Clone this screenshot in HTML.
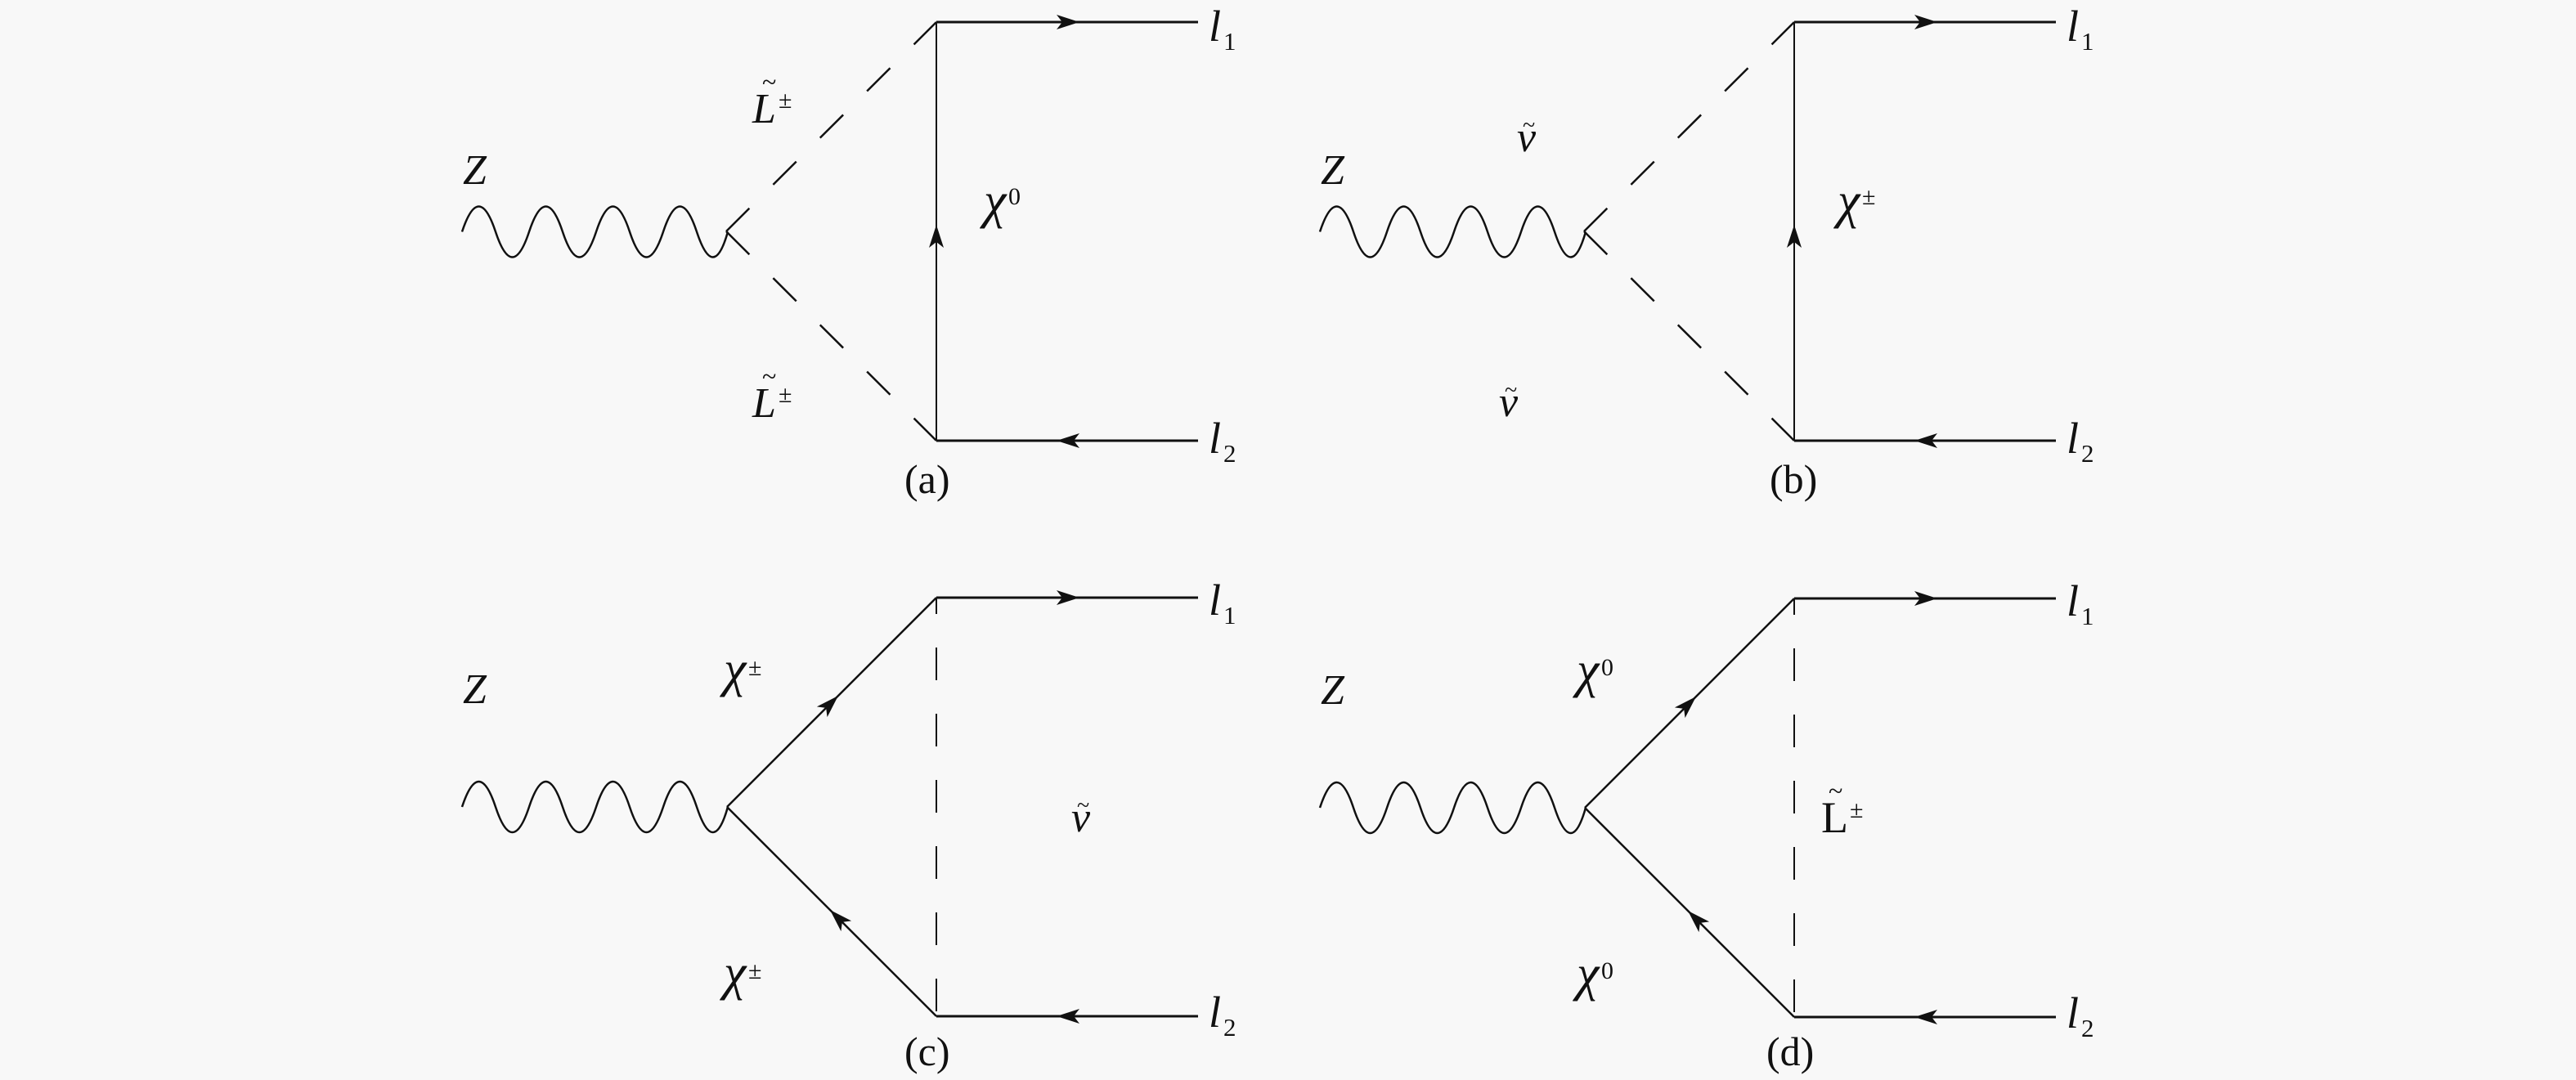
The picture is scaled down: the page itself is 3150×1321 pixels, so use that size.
<!DOCTYPE html>
<html><head><meta charset="utf-8"><style>
html,body{margin:0;padding:0;background:#f8f8f8;}
svg{display:block;}
text{font-family:"Liberation Serif",serif;fill:#111;}
.it{font-style:italic;}
</style></head><body>
<svg width="3150" height="1321" viewBox="0 0 3150 1321" xmlns="http://www.w3.org/2000/svg">
<defs>
<polygon id="ah" points="0,0 -28,-9 -21,0 -28,9" fill="#111"/>
<g id="wave">
<path d="M565 0 Q585.5 -62 606 0 T647 0 T688 0 T729 0 T770 0 T811 0 T852 0 T890 0" fill="none" stroke="#111" stroke-width="2.5"/>
</g>
<g id="top">
<use href="#wave" transform="translate(0,283.5)"/>
<line x1="888" y1="283" x2="1145" y2="27" stroke="#111" stroke-width="2.5" stroke-dasharray="40 41"/>
<line x1="888" y1="283" x2="1145" y2="539" stroke="#111" stroke-width="2.5" stroke-dasharray="40 41"/>
<line x1="1145" y1="27" x2="1145" y2="539" stroke="#111" stroke-width="2"/>
<line x1="1145" y1="27" x2="1465" y2="27" stroke="#111" stroke-width="3"/>
<line x1="1145" y1="539" x2="1465" y2="539" stroke="#111" stroke-width="3"/>
<use href="#ah" transform="translate(1320,27)"/>
<use href="#ah" transform="translate(1292,539) rotate(180)"/>
<use href="#ah" transform="translate(1145,275) rotate(-90)"/>
<text class="it" x="1478" y="50" font-size="54">l</text><text x="1496" y="61" font-size="31">1</text>
<text class="it" x="1478" y="554" font-size="54">l</text><text x="1496" y="565" font-size="31">2</text>
<text class="it" x="566" y="225" font-size="52">Z</text>
</g>
<g id="bot">
<use href="#wave" transform="translate(0,987)"/>
<line x1="889" y1="987" x2="1145" y2="731" stroke="#111" stroke-width="2.5"/>
<line x1="889" y1="987" x2="1145" y2="1243" stroke="#111" stroke-width="2.5"/>
<line x1="1145" y1="731" x2="1145" y2="1243" stroke="#111" stroke-width="2" stroke-dasharray="40 41" stroke-dashoffset="20"/>
<line x1="1145" y1="731" x2="1465" y2="731" stroke="#111" stroke-width="3"/>
<line x1="1145" y1="1243" x2="1465" y2="1243" stroke="#111" stroke-width="3"/>
<use href="#ah" transform="translate(1320,731)"/>
<use href="#ah" transform="translate(1292,1243) rotate(180)"/>
<use href="#ah" transform="translate(1025,851) rotate(-45)"/>
<use href="#ah" transform="translate(1015,1113) rotate(-135)"/>
<text class="it" x="1478" y="752" font-size="54">l</text><text x="1496" y="763" font-size="31">1</text>
<text class="it" x="1478" y="1256" font-size="54">l</text><text x="1496" y="1267" font-size="31">2</text>
<text class="it" x="566" y="860" font-size="52">Z</text>
</g>
</defs>

<!-- (a) -->
<use href="#top"/>
<text class="it" x="920" y="150" font-size="52">L</text><text x="932" y="111" font-size="32">~</text><text x="952" y="132" font-size="30">±</text>
<text class="it" x="920" y="510" font-size="52">L</text><text x="932" y="471" font-size="32">~</text><text x="952" y="492" font-size="30">±</text>
<text class="it" x="1203" y="266" font-size="62">χ</text><text x="1233" y="250" font-size="30">0</text>
<text x="1106" y="603" font-size="50">(a)</text>

<!-- (b) -->
<use href="#top" transform="translate(1049,0)"/>
<text class="it" x="1855" y="185" font-size="52">ν</text><text x="1862" y="162" font-size="28">~</text>
<text class="it" x="1833" y="509" font-size="52">ν</text><text x="1840" y="486" font-size="28">~</text>
<text class="it" x="2247" y="266" font-size="62">χ</text><text x="2277" y="250" font-size="30">±</text>
<text x="2164" y="603" font-size="50">(b)</text>

<!-- (c) -->
<use href="#bot"/>
<text class="it" x="885" y="839" font-size="62">χ</text><text x="915" y="826" font-size="30">±</text>
<text class="it" x="885" y="1210" font-size="62">χ</text><text x="915" y="1197" font-size="30">±</text>
<text class="it" x="1310" y="1017" font-size="52">ν</text><text x="1317" y="994" font-size="28">~</text>
<text x="1106" y="1303" font-size="50">(c)</text>

<!-- (d) -->
<use href="#bot" transform="translate(1049,1)"/>
<text class="it" x="1928" y="840" font-size="62">χ</text><text x="1958" y="826" font-size="30">0</text>
<text class="it" x="1928" y="1211" font-size="62">χ</text><text x="1958" y="1197" font-size="30">0</text>
<text x="2227" y="1018" font-size="54">L</text><text x="2236" y="978" font-size="32">~</text><text x="2262" y="1000" font-size="30">±</text>
<text x="2160" y="1303" font-size="50">(d)</text>
</svg>
</body></html>
